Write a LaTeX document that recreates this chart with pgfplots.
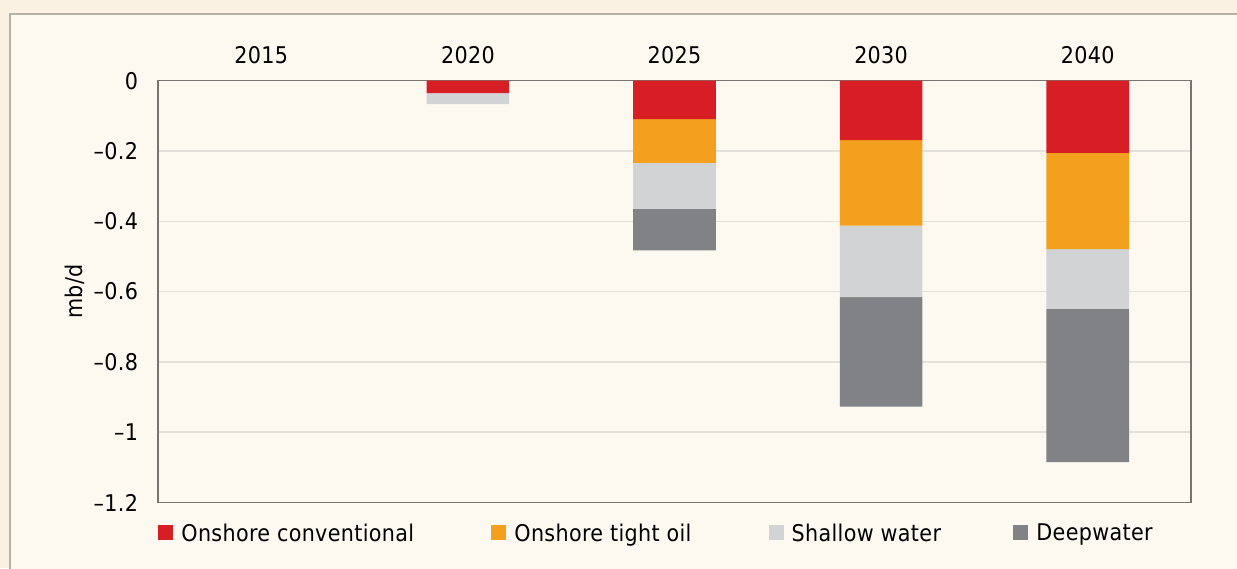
\documentclass[border=0pt]{standalone}
\usepackage{pgfplots}
\pgfplotsset{compat=1.18}
\usepackage{fontspec}
\setmainfont[LetterSpace=1.5]{DejaVu Sans Condensed}
\definecolor{cRed}{HTML}{D81E25}
\definecolor{cOrange}{HTML}{F3A01F}
\definecolor{cLight}{HTML}{D1D3D4}
\definecolor{cDark}{HTML}{808285}
\definecolor{outerbg}{HTML}{FBF1E3}
\definecolor{panelbg}{HTML}{FDF9F1}
\definecolor{panelborder}{HTML}{B5B1AB}
\definecolor{gridc}{HTML}{E3E0DA}
\definecolor{axisc}{HTML}{777570}
\begin{document}
\fontsize{11.5}{13}\selectfont
\begin{tikzpicture}
\path[use as bounding box] (0,0) rectangle (618.5pt,284pt);
\fill[outerbg] (0,0) rectangle (618.5pt,284pt);
\begin{scope}
\clip (0,0) rectangle (618.5pt,284pt);
\filldraw[fill=panelbg, draw=panelborder, line width=0.75pt] (5pt,-10pt) rectangle (630pt,277pt);
\end{scope}
\begin{axis}[
  at={(79pt,32.75pt)}, anchor=south west,
  scale only axis, width=516.5pt, height=210.9pt,
  ybar stacked, bar width=0.4,
  xmin=-0.5, xmax=4.5, ymin=-1.2, ymax=0,
  xtick={0,1,2,3,4}, xticklabels={2015,2020,2025,2030,2040},
  xticklabel pos=upper,
  xticklabel style={anchor=center, yshift=12.8pt},
  ytick={-1.2,-1,-0.8,-0.6,-0.4,-0.2,0},
  yticklabels={--1.2,--1,--0.8,--0.6,--0.4,--0.2,0},
  yticklabel style={anchor=east, xshift=-6pt},
  major tick length=0pt,
  tick style={draw=none},
  ymajorgrids,
  grid style={gridc, line width=0.75pt},
  axis line style={axisc, line width=0.75pt},
  ylabel={mb/d},
  ylabel style={at={(axis description cs:-0.0803,0.5)}, anchor=center, rotate=0},
  legend columns=4,
  legend style={at={(axis description cs:0,-0.0711)}, anchor=west,
    draw=none, fill=none, inner sep=0pt, column sep=0pt,
    nodes={inner sep=0pt, text depth=0pt}},
  legend cell align=left,
  every axis plot post/.append style={
    draw=none,
    legend image code/.code={\fill[##1] (0pt,-3.75pt) rectangle (7.5pt,3.75pt);}},
]
\addplot[fill=cRed, draw=none] coordinates {(0,0) (1,-0.035) (2,-0.109) (3,-0.169) (4,-0.205)};
\addlegendentry{\makebox[159pt][l]{\hspace*{4pt}Onshore conventional}}
\addplot[fill=cOrange, draw=none] coordinates {(0,0) (1,0) (2,-0.125) (3,-0.243) (4,-0.274)};
\addlegendentry{\makebox[131.15pt][l]{\hspace*{4pt}Onshore tight oil}}
\addplot[fill=cLight, draw=none] coordinates {(0,0) (1,-0.032) (2,-0.131) (3,-0.204) (4,-0.170)};
\addlegendentry{\makebox[114.85pt][l]{\hspace*{4pt}Shallow water}}
\addplot[fill=cDark, draw=none] coordinates {(0,0) (1,0) (2,-0.1175) (3,-0.311) (4,-0.436)};
\addlegendentry{\hspace*{4pt}Deepwater}
\end{axis}
\end{tikzpicture}
\end{document}
